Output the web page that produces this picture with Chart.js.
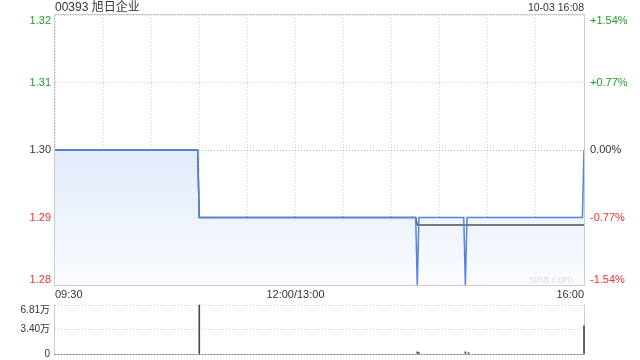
<!DOCTYPE html>
<html><head><meta charset="utf-8">
<script src="https://cdn.jsdelivr.net/npm/chart.js@4.4.0/dist/chart.umd.min.js"></script>
<style>
html,body{margin:0;padding:0;background:#fff;width:640px;height:360px;overflow:hidden;font-family:"Liberation Sans","Noto Sans CJK SC",sans-serif;}
#main{position:absolute;left:0;top:0;}
#vol{position:absolute;left:0;top:300px;}
.t{position:absolute;white-space:nowrap;color:#333;}
</style></head><body>
<canvas id="main" width="640" height="300"></canvas>
<canvas id="vol" width="640" height="60"></canvas>
<div class="t" id="title" style="left:55px;top:0px;font-size:12px;line-height:14px;"></div>
<div class="t" id="stamp" style="right:56px;top:1px;font-size:10.5px;line-height:12px;"></div>
<div class="t" id="wm" style="right:67px;top:272px;font-size:11px;line-height:14px;color:#e0e0e0;">sina.com</div>
<script>
// ---- data ----
const stockTitle = "00393 旭日企业";
const stampText = "10-03 16:08";
const prevClose = 1.30;
const priceTimes  = ["09:30","10:59","11:00","14:15","14:16","14:17","14:45","14:46","14:47","15:59","16:00"];
const priceValues = [1.30, 1.30, 1.29, 1.29, 1.28, 1.29, 1.29, 1.28, 1.29, 1.29, 1.30];
const avgTimes  = ["09:30","10:59","11:00","14:15","14:16","16:00"];
const avgValues = [1.30, 1.30, 1.29, 1.29, 1.2889, 1.2889];
const volTimes  = ["11:00","14:16","14:17","14:46","14:48","16:00"];
const volValues = [68100, 3000, 2000, 3000, 2000, 39000];
const priceTicks = [1.28, 1.29, 1.30, 1.31, 1.32];
const priceTickLabels = ["1.28","1.29","1.30","1.31","1.32"];
const pctTickLabels = ["-1.54%","-0.77%","0.00%","+0.77%","+1.54%"];
const xGridTimes = ["09:30","10:00","10:30","11:00","11:30","12:00","13:30","14:00","14:30","15:00","15:30","16:00"];
const xLabelTimes = ["09:30","12:00/13:00","16:00"];
const volTicks = [0, 34050, 68100];
const volTickLabels = ["0","3.40万","6.81万"];

document.getElementById('title').textContent = stockTitle;
document.getElementById('stamp').textContent = stampText;

const FONT = '"Liberation Sans","Noto Sans CJK SC",sans-serif';
const GREEN = '#1f9e1f', RED = '#f03030', DARK = '#333333';

function toMin(t){
  const p = t.split(/[:\/]/);
  const m = (+p[0])*60 + (+p[1]);
  return m <= 720 ? m - 570 : m - 780 + 150;
}
function tickColor(v){
  if (Math.abs(v - prevClose) < 1e-9) return DARK;
  return v > prevClose ? GREEN : RED;
}
function fitY(w){ return s => { s.width = w; s.paddingTop = 0; s.paddingBottom = 0; }; }

const edgeLabels = {
  id: 'edgeLabels',
  beforeDraw(chart, args, opts){
    (opts.top || []).forEach(id => {
      const s = chart.scales[id]; const it = s.getLabelItems();
      if (it.length) it[it.length-1].options.textBaseline = 'top';
    });
    (opts.bottom || []).forEach(id => {
      const s = chart.scales[id]; const it = s.getLabelItems();
      if (it.length) it[0].options.textBaseline = 'bottom';
    });
  }
};
const frame = {
  id: 'frame',
  beforeDatasetsDraw(chart, args, opts){
    const {ctx, chartArea:a} = chart;
    ctx.save();
    ctx.lineWidth = 1;
    ctx.strokeStyle = '#cccccc';
    const l = Math.round(a.left)-0.5, r = Math.round(a.right)+0.5, t = Math.round(a.top)-0.5, b = Math.round(a.bottom)+0.5;
    ctx.beginPath();
    ctx.moveTo(l, t); ctx.lineTo(l, b);
    ctx.moveTo(r, t); ctx.lineTo(r, b);
    if (opts.full){ ctx.moveTo(l, t); ctx.lineTo(r, t); ctx.moveTo(l, b); ctx.lineTo(r, b); }
    ctx.stroke();
    if (!opts.full){
      ctx.strokeStyle = '#777777';
      ctx.setLineDash([2,1]);
      ctx.beginPath(); ctx.moveTo(l, b); ctx.lineTo(r, b); ctx.stroke();
    }
    ctx.restore();
  }
};

function fillGrad(ctx){
  const chart = ctx.chart; const a = chart.chartArea;
  if (!a) return 'rgba(0,0,0,0)';
  const y0 = chart.scales.y.getPixelForValue(prevClose);
  const g = chart.ctx.createLinearGradient(0, y0, 0, a.bottom);
  g.addColorStop(0, '#e2ebfb');
  g.addColorStop(1, '#fafcff');
  return g;
}

new Chart(document.getElementById('main'), {
  type: 'line',
  data: {
    datasets: [
      { data: priceTimes.map((t,i)=>({x:toMin(t), y:priceValues[i]})),
        borderColor:'#4f86e0', borderWidth:1.5, pointRadius:0, fill:'start',
        backgroundColor: fillGrad, tension:0, order:0 },
      { data: avgTimes.map((t,i)=>({x:toMin(t), y:avgValues[i]})),
        borderColor:'#505050', borderWidth:1.5, pointRadius:0, fill:false, tension:0, order:1 }
    ]
  },
  options: {
    responsive:false, animation:false, events:[],
    layout:{padding:{top:15, left:0, right:0, bottom:0}},
    plugins:{ legend:{display:false}, tooltip:{enabled:false},
      filler:{drawTime:'beforeDatasetsDraw'},
      edgeLabels:{top:['y','y2'], bottom:['y','y2']}, frame:{full:true} },
    scales:{
      x:{ type:'linear', min:0, max:330,
        afterBuildTicks:s=>{ s.ticks = xGridTimes.map(t=>({value:toMin(t)})); },
        afterFit:s=>{ s.height = 15; s.paddingLeft = 0; s.paddingRight = 0; },
        grid:{ color:'#d4d4d4', lineWidth:1, drawTicks:false },
        border:{ display:false, dash:[1,2] },
        ticks:{ autoSkip:false, maxRotation:0, minRotation:0, align:'inner', padding:3, color:DARK,
          font:{size:11, family:FONT},
          callback:(v)=>{ const i = xLabelTimes.findIndex(t=>toMin(t)===v); return i>=0 ? xLabelTimes[i] : ''; } } },
      y:{ position:'left', min:1.28, max:1.32,
        afterBuildTicks:s=>{ s.ticks = priceTicks.map(v=>({value:v})); },
        afterFit:fitY(55),
        grid:{ color:c=> (c.tick && Math.abs(c.tick.value-prevClose)<1e-9) ? '#b4b4b4' : '#d4d4d4', drawTicks:false },
        border:{ display:false, dash:[1,2] },
        ticks:{ padding:4, font:{size:11, family:FONT}, color:c=>tickColor(priceTicks[c.index]),
          callback:(v,i)=>priceTickLabels[i] } },
      y2:{ position:'right', min:1.28, max:1.32,
        afterBuildTicks:s=>{ s.ticks = priceTicks.map(v=>({value:v})); },
        afterFit:fitY(56),
        grid:{ display:false, drawTicks:false }, border:{display:false},
        ticks:{ padding:6, font:{size:11, family:FONT}, color:c=>tickColor(priceTicks[c.index]),
          callback:(v,i)=>pctTickLabels[i] } }
    }
  },
  plugins:[edgeLabels, frame]
});

new Chart(document.getElementById('vol'), {
  type: 'bar',
  data: { datasets: [{ data: volTimes.map((t,i)=>({x:toMin(t), y:volValues[i]})),
    backgroundColor:'#4a4a4a', barThickness:1, clip:false }] },
  options: {
    responsive:false, animation:false, events:[],
    layout:{padding:{top:5, left:0, right:56, bottom:6}},
    plugins:{ legend:{display:false}, tooltip:{enabled:false}, edgeLabels:{top:['y']}, frame:{full:false} },
    scales:{
      x:{ type:'linear', min:0, max:330, offset:false, display:false, grid:{offset:false} },
      y:{ position:'left', min:0, max:68100,
        afterBuildTicks:s=>{ s.ticks = volTicks.map(v=>({value:v})); },
        afterFit:fitY(55),
        grid:{ color:c=> (c.tick && c.tick.value===0) ? 'rgba(0,0,0,0)' : '#cccccc', drawTicks:false },
        border:{ display:false, dash:[1,2] },
        ticks:{ padding:5, font:{size:10, family:FONT}, color:DARK, callback:(v,i)=>volTickLabels[i] } }
    }
  },
  plugins:[edgeLabels, frame]
});
</script>
</body></html>
